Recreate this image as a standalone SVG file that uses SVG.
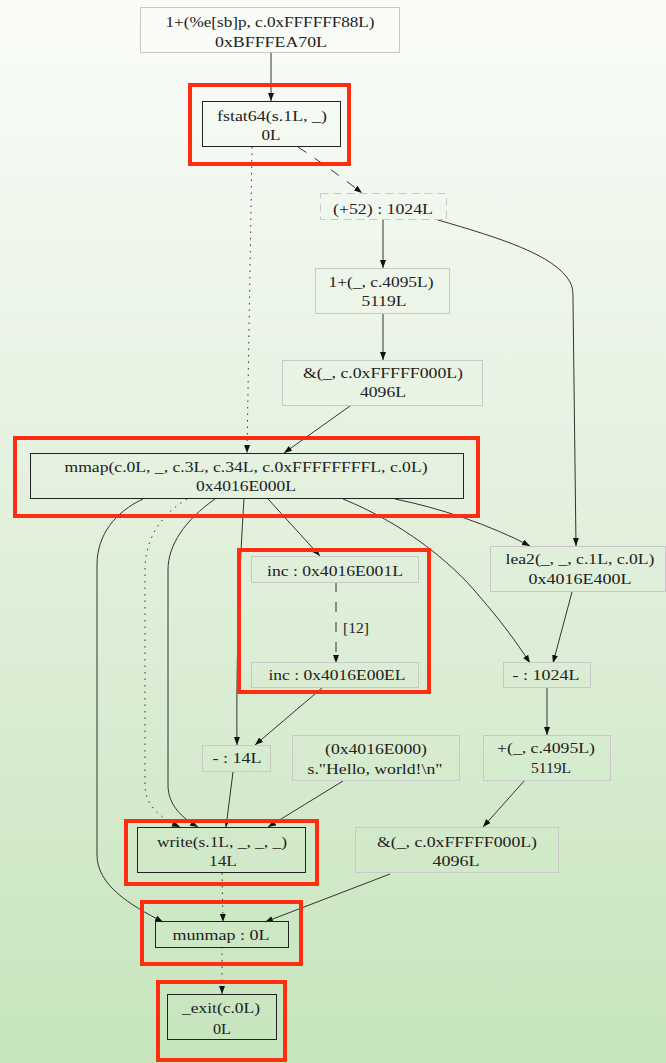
<svg xmlns="http://www.w3.org/2000/svg" width="666" height="1063" viewBox="0 0 666 1063">
<defs>
<linearGradient id="bg" x1="0" y1="0" x2="0" y2="1">
<stop offset="0" stop-color="#fafcf9"/>
<stop offset="0.5" stop-color="#e2f0dc"/>
<stop offset="1" stop-color="#c6e5bd"/>
</linearGradient>
<marker id="ah" markerUnits="userSpaceOnUse" markerWidth="8" markerHeight="7" refX="8" refY="3.5" orient="auto">
<path d="M0,0.5 L8,3.5 L0,6.5 z" fill="#111"/>
</marker>
<style>
.g{fill:none;stroke:#c8c8c8;stroke-width:1}
.k{fill:none;stroke:#222;stroke-width:1}
.hl{fill:none;stroke:#ff2e12;stroke-width:4}
.t{font-family:"Liberation Serif","Times New Roman",serif;font-size:14px;fill:#222;text-anchor:middle}
.e{fill:none;stroke:#333;stroke-width:1;marker-end:url(#ah)}
.dot{stroke-dasharray:1.5,5}
.dash{stroke-dasharray:10,10}
</style>
</defs>
<rect x="0" y="0" width="666" height="1063" fill="url(#bg)"/>

<g id="connectors">
<path class="e" d="M271,53 L271,101"/>
<path class="e dot" d="M252,147 L247,453"/>
<path class="e dash" d="M298,147 C318,160 340,176 362,193"/>
<path class="e" d="M383,219 L383,268"/>
<path class="e" d="M438,220 C500,238 555,255 570,282 C573,288 573,292 573,300 L576,546"/>
<path class="e" d="M383,313 L383,360"/>
<path class="e" d="M350,406 L284,453"/>
<path class="e" d="M143,499 C115,512 97,535 97,565 L97,855 C97,885 130,905 163,922"/>
<path class="e dot" d="M187,499 C160,515 145,540 145,570 L145,785 C145,805 160,818 180,827"/>
<path class="e" d="M215,499 C185,520 168,545 168,570 L168,785 C168,805 182,818 198,827"/>
<path class="e" d="M244,499 C240,560 236,650 237,745"/>
<path class="e" d="M268,499 L320,556"/>
<path class="e" d="M343,499 C400,522 450,560 480,597 C500,620 515,640 530,663"/>
<path class="e" d="M395,499 C440,508 490,525 530,546"/>
<path class="e dash" d="M336,582 L336,663"/>
<text class="t" x="356" y="633" textLength="26" lengthAdjust="spacingAndGlyphs">[12]</text>
<path class="e" d="M322,688 L255,745"/>
<path class="e" d="M572,592 L553,663"/>
<path class="e" d="M547,688 L547,735"/>
<path class="e" d="M525,780 L483,827"/>
<path class="e" d="M233,772 L226,827"/>
<path class="e" d="M343,781 L268,827"/>
<path class="e" d="M390,874 L265,922"/>
<path class="e dot" d="M222,873 L223,922"/>
<path class="e dot" d="M222,947 L222,994"/>
</g>

<g id="nA">
<rect class="g" x="140.5" y="7.5" width="259" height="45"/>
<text class="t" x="270" y="27" textLength="209" lengthAdjust="spacingAndGlyphs">1+(%e[sb]p, c.0xFFFFFF88L)</text>
<text class="t" x="271" y="47" textLength="112" lengthAdjust="spacingAndGlyphs">0xBFFFEA70L</text>
</g>

<g id="nB">
<rect class="hl" x="190" y="85" width="159" height="79"/>
<rect class="k" x="202.5" y="101.5" width="138" height="45"/>
<text class="t" x="272" y="121" textLength="110" lengthAdjust="spacingAndGlyphs">fstat64(s.1L, _)</text>
<text class="t" x="271" y="140" textLength="19" lengthAdjust="spacingAndGlyphs">0L</text>
</g>

<g id="nC">
<rect class="g" x="320.5" y="193.5" width="126" height="26" stroke-dasharray="8,5"/>
<text class="t" x="383" y="214" textLength="100" lengthAdjust="spacingAndGlyphs">(+52) : 1024L</text>
</g>

<g id="nD">
<rect class="g" x="315.5" y="268.5" width="134" height="45"/>
<text class="t" x="381" y="287" textLength="105" lengthAdjust="spacingAndGlyphs">1+(_, c.4095L)</text>
<text class="t" x="384" y="306" textLength="45" lengthAdjust="spacingAndGlyphs">5119L</text>
</g>

<g id="nE">
<rect class="g" x="282.5" y="360.5" width="200" height="45"/>
<text class="t" x="383" y="378" textLength="160" lengthAdjust="spacingAndGlyphs">&amp;(_, c.0xFFFFF000L)</text>
<text class="t" x="383" y="397" textLength="46" lengthAdjust="spacingAndGlyphs">4096L</text>
</g>

<g id="nF">
<rect class="hl" x="15" y="438" width="463" height="78"/>
<rect class="k" x="30.5" y="453.5" width="433" height="45"/>
<text class="t" x="246" y="472" textLength="363" lengthAdjust="spacingAndGlyphs">mmap(c.0L, _, c.3L, c.34L, c.0xFFFFFFFFL, c.0L)</text>
<text class="t" x="246" y="491" textLength="100" lengthAdjust="spacingAndGlyphs">0x4016E000L</text>
</g>

<g id="nGH">
<rect class="hl" x="239" y="550" width="190" height="142"/>
</g>

<g id="nG">
<rect class="g" x="251.5" y="556.5" width="167" height="26"/>
<text class="t" x="335" y="576" textLength="136" lengthAdjust="spacingAndGlyphs">inc : 0x4016E001L</text>
</g>

<g id="nH">
<rect class="g" x="251.5" y="662.5" width="167" height="25"/>
<text class="t" x="337" y="680" textLength="137" lengthAdjust="spacingAndGlyphs">inc : 0x4016E00EL</text>
</g>

<g id="nI">
<rect class="g" x="490.5" y="546.5" width="175" height="45"/>
<text class="t" x="580" y="564" textLength="149" lengthAdjust="spacingAndGlyphs">lea2(_, _, c.1L, c.0L)</text>
<text class="t" x="580" y="584" textLength="103" lengthAdjust="spacingAndGlyphs">0x4016E400L</text>
</g>

<g id="nJ">
<rect class="g" x="503.5" y="662.5" width="87" height="25"/>
<text class="t" x="546" y="680" textLength="67" lengthAdjust="spacingAndGlyphs">- : 1024L</text>
</g>

<g id="nK">
<rect class="g" x="483.5" y="735.5" width="127" height="45"/>
<text class="t" x="546" y="753" textLength="98" lengthAdjust="spacingAndGlyphs">+(_, c.4095L)</text>
<text class="t" x="551" y="773" textLength="40" lengthAdjust="spacingAndGlyphs">5119L</text>
</g>

<g id="nL">
<rect class="g" x="202.5" y="745.5" width="68" height="26"/>
<text class="t" x="237" y="763" textLength="49" lengthAdjust="spacingAndGlyphs">- : 14L</text>
</g>

<g id="nM">
<rect class="g" x="292.5" y="735.5" width="167" height="45"/>
<text class="t" x="376" y="754" textLength="102" lengthAdjust="spacingAndGlyphs">(0x4016E000)</text>
<text class="t" x="375" y="774" textLength="135" lengthAdjust="spacingAndGlyphs">s."Hello, world!\n"</text>
</g>

<g id="nN">
<rect class="g" x="355.5" y="827.5" width="203" height="45"/>
<text class="t" x="457" y="847" textLength="160" lengthAdjust="spacingAndGlyphs">&amp;(_, c.0xFFFFF000L)</text>
<text class="t" x="456" y="866" textLength="47" lengthAdjust="spacingAndGlyphs">4096L</text>
</g>

<g id="nO">
<rect class="hl" x="126" y="821" width="191" height="63"/>
<rect class="k" x="137.5" y="827.5" width="168" height="45"/>
<text class="t" x="222" y="847" textLength="130" lengthAdjust="spacingAndGlyphs">write(s.1L, _, _, _)</text>
<text class="t" x="223" y="866" textLength="28" lengthAdjust="spacingAndGlyphs">14L</text>
</g>

<g id="nP">
<rect class="hl" x="142" y="902" width="159" height="62"/>
<rect class="k" x="155.5" y="921.5" width="133" height="26"/>
<text class="t" x="221" y="940" textLength="97" lengthAdjust="spacingAndGlyphs">munmap : 0L</text>
</g>

<g id="nQ">
<rect class="hl" x="158" y="982" width="127" height="78"/>
<rect class="k" x="167.5" y="994.5" width="109" height="45"/>
<text class="t" x="221" y="1013" textLength="78" lengthAdjust="spacingAndGlyphs">_exit(c.0L)</text>
<text class="t" x="222" y="1034" textLength="18" lengthAdjust="spacingAndGlyphs">0L</text>
</g>
</svg>
